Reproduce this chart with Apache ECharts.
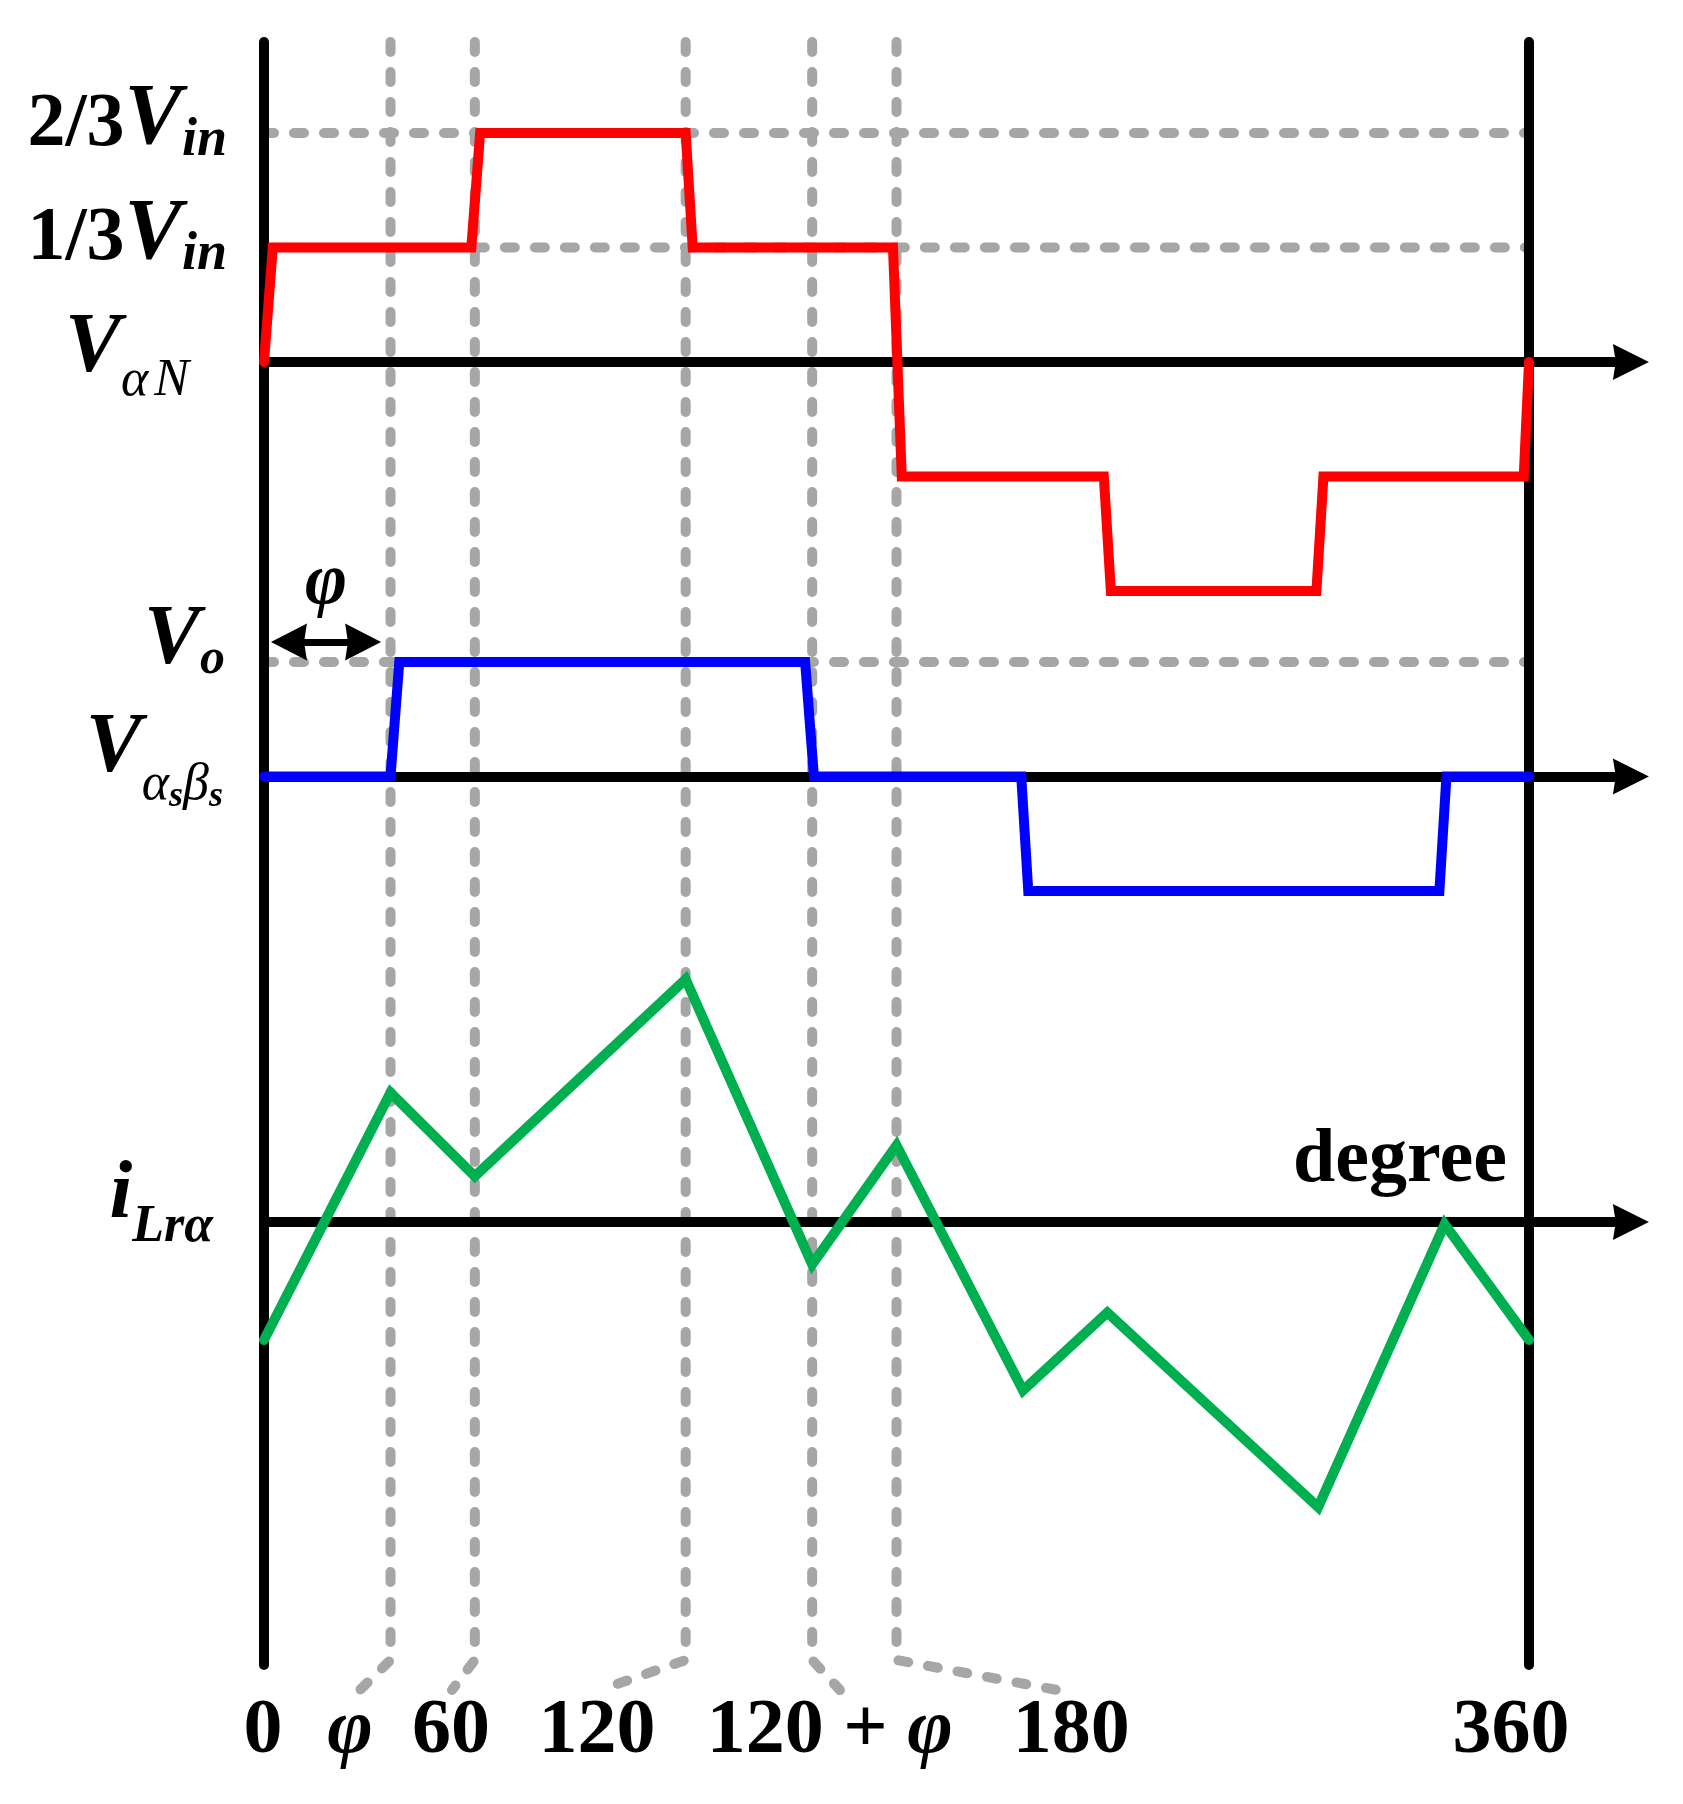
<!DOCTYPE html>
<html lang="en" style="height: 100%">

<head>
  <meta charset="UTF-8" />
  <title>Waveforms vs degree</title>
  <script src="https://cdn.jsdelivr.net/npm/echarts/dist/echarts.min.js"></script>
</head>

<body style="height: 100%; margin: 0; background: #fff">
  <div id="main" style="width: 1683px; height: 1804px"></div>
  <script type="text/javascript">
    // ---- data (x in degrees) ----
    var tickDeg = [0, 36, 60, 120, 156, 180, 360];
    var tickText = ['0', 'φ', '60', '120', '120 + φ', '180', '360'];

    // V_aN, in units of Vin/3
    var vanDeg = [0, 2.5, 59, 61.5, 120, 122, 179, 181.5, 239, 241, 299.5, 301.5, 358.5, 360];
    var vanVal = [0, 1, 1, 2, 2, 1, 1, -1, -1, -2, -2, -1, -1, 0];

    // V_asbs, in units of Vo
    var vabDeg = [0, 36, 38.5, 154, 156.5, 215.5, 217.5, 334.5, 336.5, 360];
    var vabVal = [0, 0, 1, 1, 0, 0, -1, -1, 0, 0];

    // i_Lra (arbitrary units)
    var iLrDeg = [0, 36, 60, 120, 156, 180, 216, 240, 300, 336, 360];
    var iLrVal = [-1.03, 1.13, 0.40, 2.12, -0.37, 0.67, -1.47, -0.79, -2.49, -0.02, -1.03];

    // dashed reference levels: [level, fromDeg, toDeg]
    var vanRef = [[2, 0, 360], [1, 60, 360]];
    var vabRef = [[1, 0, 360]];

    // y axis labels (rich text) per panel, keyed by level
    var yLabels = [
      { '2': '{n|2/3}{v|V}{s|in}', '1': '{n|1/3}{v|V}{s|in}', '0': '{va|V}{ga|α}{gn|N}' },
      { '1': '{vo|V}{so|o}', '0': '{vb|V}{gb|α}{sb|s}{gb|β}{sb2|s}' },
      { '0': '{vi|i}{si|Lrα}' }
    ];

    // ---- layout ----
    var X0 = 264, X360 = 1529;
    var PX_DEG = (X360 - X0) / 360;
    var X_MAX = 389;               // horizontal axes run past 360 up to the arrow
    var UNIT = 114.5;              // px per level unit
    var PANEL_ZERO = [362, 776.5, 1222];
    var OV_TOP = 42, OV_H = 1623;  // overlay grid for the full-height lines
    var LEAD_BEND = 5, LEAD_END = -25, LABEL_Y = -67;
    var leadEndDeg = [null, 27.3, 53.5, 95.6, 163.9, 225.7, null];
    var labelDeg = [-0.3, 24.5, 53.2, 94.8, 161, 229.7, 354.9];

    var F = '"Liberation Serif", "Times New Roman", serif';
    var ARROW = 'path://M5,0 L10,10 L5,9.2 L0,10 Z';
    var GREY = '#A6A6A6';
    var dashStyle = { color: GREY, width: 10, type: [10, 20], cap: 'round', join: 'round' };

    function zip(xs, ys) {
      return xs.map(function (x, i) { return [x, ys[i]]; });
    }

    function st(size, weight, style, pad) {
      return { fontFamily: F, fontSize: size, fontWeight: weight, fontStyle: style, color: '#000', padding: pad };
    }

    var rich = {
      n: st(76, 'bold', 'normal', [0, 0, 16, 0]),
      v: st(86, 'bold', 'italic', [0, 0, 24, 0]),
      s: st(54, 'bold', 'italic', [16, 0, 0, 0]),
      va: st(84, 'bold', 'italic', [0, 0, 26, 0]),
      ga: st(52, 'normal', 'italic', [38, 0, 0, 0]),
      gn: st(52, 'normal', 'italic', [38, 38, 0, 6]),
      vo: st(84, 'bold', 'italic', [0, 0, 42, 0]),
      so: st(50, 'bold', 'italic', [0, 2, 4, 0]),
      vb: st(84, 'bold', 'italic', [0, 0, 55, 0]),
      gb: st(52, 'normal', 'italic', [17, 0, 0, 0]),
      sb: st(36, 'bold', 'italic', [40, 0, 0, 0]),
      sb2: st(36, 'bold', 'italic', [40, 4, 0, 0]),
      vi: st(82, 'bold', 'italic', [0, 0, 52, 0]),
      si: st(52, 'bold', 'italic', [12, 14, 0, 0])
    };

    function tickLabel(t) {
      return t.split('φ').map(function (part) { return part ? '{b|' + part + '}' : ''; }).join('{i|φ}');
    }

    var grids = PANEL_ZERO.map(function (z) {
      return { left: X0, top: z - 3 * UNIT, width: X_MAX * PX_DEG, height: 6 * UNIT, outerBoundsMode: 'none' };
    });
    grids.push({ left: X0, top: OV_TOP, width: X_MAX * PX_DEG, height: OV_H, outerBoundsMode: 'none' });

    var xAxes = [0, 1, 2].map(function (i) {
      return {
        type: 'value', gridIndex: i, min: 0, max: X_MAX, z: 3,
        axisLine: { onZero: true, symbol: ['none', ARROW], symbolSize: [36, 36], lineStyle: { color: '#000', width: 10 } },
        axisTick: { show: false }, axisLabel: { show: false }, splitLine: { show: false }
      };
    });
    xAxes[2].name = 'degree';
    xAxes[2].nameLocation = 'end';
    xAxes[2].nameGap = -124;
    xAxes[2].nameTextStyle = {
      fontFamily: F, fontSize: 76, fontWeight: 'bold', color: '#000',
      align: 'right', verticalAlign: 'bottom', padding: [0, 0, 23, 0]
    };
    xAxes.push({ type: 'value', gridIndex: 3, min: 0, max: X_MAX, show: false });

    var yAxes = [0, 1, 2].map(function (i) {
      return {
        type: 'value', gridIndex: i, min: -3, max: 3, interval: 1, z: 3,
        axisLine: { show: false }, axisTick: { show: false }, splitLine: { show: false },
        axisLabel: {
          margin: 37, rich: rich, color: '#000',
          formatter: function (v) { return yLabels[i][String(v)] || ''; }
        }
      };
    });
    [['left', 0], ['right', -(X_MAX - 360) * PX_DEG]].forEach(function (p) {
      yAxes.push({
        type: 'value', gridIndex: 3, min: 0, max: OV_H, position: p[0], offset: p[1], z: 3,
        axisLine: { show: true, onZero: false, lineStyle: { color: '#000', width: 10, cap: 'round' } },
        axisTick: { show: false }, axisLabel: { show: false }, splitLine: { show: false }
      });
    });

    function refSeries(refs, idx) {
      return refs.map(function (r) {
        return {
          type: 'line', xAxisIndex: idx, yAxisIndex: idx, symbol: 'none', silent: true, z: 1,
          data: [[r[1], r[0]], [r[2], r[0]]], lineStyle: dashStyle
        };
      });
    }

    var series = [];
    series = series.concat(refSeries(vanRef, 0), refSeries(vabRef, 1));

    // dashed verticals with their leaders down to the tick labels
    for (var k = 1; k <= 5; k++) {
      series.push({
        type: 'line', xAxisIndex: 3, yAxisIndex: 3, symbol: 'none', silent: true, z: 1, clip: false,
        data: [[tickDeg[k], OV_H], [tickDeg[k], LEAD_BEND], [leadEndDeg[k], LEAD_END]],
        lineStyle: dashStyle
      });
    }

    series.push({
      type: 'line', xAxisIndex: 0, yAxisIndex: 0, symbol: 'none', silent: true, z: 5,
      data: zip(vanDeg, vanVal),
      lineStyle: { color: '#FF0000', width: 10, cap: 'round', join: 'miter' }
    });
    series.push({
      type: 'line', xAxisIndex: 1, yAxisIndex: 1, symbol: 'none', silent: true, z: 5,
      data: zip(vabDeg, vabVal),
      lineStyle: { color: '#0000FF', width: 10, cap: 'round', join: 'miter' },
      markLine: {
        silent: true, animation: false,
        symbol: [ARROW, ARROW], symbolSize: [37, 36],
        lineStyle: { color: '#000', width: 7, type: 'solid' },
        label: {
          show: true, position: 'middle', distance: 22, formatter: 'φ', color: '#000',
          fontFamily: F, fontSize: 72, fontWeight: 'bold', fontStyle: 'italic'
        },
        data: [[{ coord: [7.1, 1.175] }, { coord: [28.2, 1.175] }]]
      }
    });
    series.push({
      type: 'line', xAxisIndex: 2, yAxisIndex: 2, symbol: 'none', silent: true, z: 5,
      data: zip(iLrDeg, iLrVal),
      lineStyle: { color: '#00B050', width: 10, cap: 'round', join: 'miter' }
    });

    // tick labels under the leaders
    series.push({
      type: 'scatter', xAxisIndex: 3, yAxisIndex: 3, symbolSize: 1, silent: true, z: 5, clip: false,
      itemStyle: { color: '#000', opacity: 0 },
      data: tickText.map(function (t, i) { return { value: [labelDeg[i], LABEL_Y], name: t }; }),
      label: {
        show: true, position: 'inside', color: '#000', opacity: 1, textBorderWidth: 0,
        formatter: function (p) { return tickLabel(tickText[p.dataIndex]); },
        rich: {
          b: { fontFamily: F, fontSize: 78, fontWeight: 'bold', color: '#000' },
          i: { fontFamily: F, fontSize: 78, fontWeight: 'bold', fontStyle: 'italic', color: '#000' }
        }
      }
    });

    var myChart = echarts.init(document.getElementById('main'));
    var option = {
      backgroundColor: '#fff',
      animation: false,
      grid: grids,
      xAxis: xAxes,
      yAxis: yAxes,
      series: series
    };
    myChart.setOption(option);
    window.addEventListener('resize', myChart.resize);
  </script>
</body>

</html>
